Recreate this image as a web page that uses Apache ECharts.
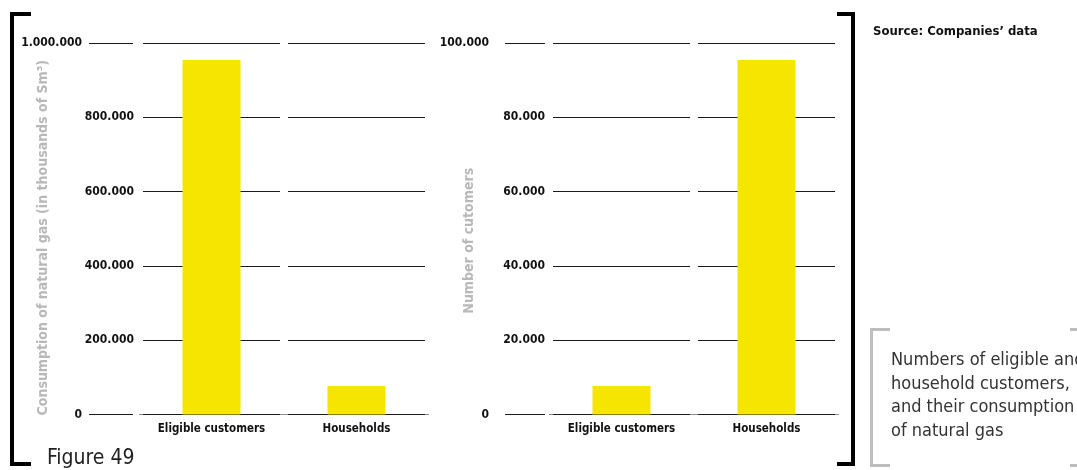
<!DOCTYPE html>
<html>
<head>
<meta charset="utf-8">
<script src="https://cdn.jsdelivr.net/npm/echarts@6/dist/echarts.min.js"></script>
<style>
html,body{margin:0;padding:0;background:#fff;}
#chart{width:1077px;height:470px;}
</style>
</head>
<body>
<div id="chart"></div>
<script>
// ---- data ----
const categories = ['Eligible customers', 'Households'];
const consumption = [954000, 77000];      // thousands of Sm3
const customers = [7700, 95400];          // number of customers
const consumptionTicks = { min: 0, max: 1000000, step: 200000 };
const customerTicks = { min: 0, max: 100000, step: 20000 };

const NARROW = "'DejaVu Sans Condensed', 'Liberation Sans Narrow', sans-serif";
const fmt = v => String(v).replace(/\B(?=(\d{3})+(?!\d))/g, '.');
const tickLabel = { color: '#111', fontFamily: NARROW, fontWeight: 'bold', fontSize: 12, padding: [0, 0, 4, 0], formatter: fmt };

function mainY(grid, ticks, name, margin, nameGap, shift) {
  return {
    type: 'value', gridIndex: grid, min: ticks.min, max: ticks.max, interval: ticks.step,
    axisLine: { show: false }, axisTick: { show: false },
    splitLine: { show: true, lineStyle: { color: '#1a1a1a', width: 1 } },
    axisLabel: Object.assign({ margin: margin, showMinLabel: false, showMaxLabel: false }, tickLabel),
    name: name, nameLocation: 'middle', nameRotate: 90, nameGap: nameGap,
    nameTextStyle: { color: '#b8b8b8', fontFamily: NARROW, fontWeight: 'bold', fontSize: 14, padding: [0, shift, 0, 0] },
    z: 0
  };
}
function endY(grid, ticks, offset, len, margin) {
  return {
    type: 'value', gridIndex: grid, min: ticks.min, max: ticks.max, interval: ticks.max - ticks.min,
    offset: offset, position: 'left',
    axisLine: { show: false },
    axisTick: { show: true, length: len, lineStyle: { color: '#1a1a1a', width: 1 } },
    splitLine: { show: false },
    axisLabel: Object.assign({ margin: margin }, tickLabel),
    z: 0
  };
}
function catX(grid) {
  return {
    type: 'category', gridIndex: grid, data: categories,
    axisLine: { show: false }, axisTick: { show: false },
    splitLine: { show: true, lineStyle: { color: '#ffffff', width: 8 } },
    axisLabel: { color: '#111', fontFamily: NARROW, fontWeight: 'bold', fontSize: 11.5, margin: 9, interval: 0 },
    z: 1
  };
}

const chart = echarts.init(document.getElementById('chart'), null, { renderer: 'canvas' });
chart.setOption({
  animation: false,
  backgroundColor: '#ffffff',
  grid: [
    { left: 139, right: 1077 - 429, top: 43, bottom: 470 - 414.5 },
    { left: 549, right: 1077 - 839, top: 43, bottom: 470 - 414.5 }
  ],
  xAxis: [catX(0), catX(1)],
  yAxis: [
    mainY(0, consumptionTicks, 'Consumption of natural gas (in thousands of Sm³)', 5, 89, 18),
    endY(0, consumptionTicks, 6, 44, 51),
    mainY(1, customerTicks, 'Number of cutomers', 4, 73, 24),
    endY(1, customerTicks, 4, 40, 56)
  ],
  series: [
    { type: 'bar', xAxisIndex: 0, yAxisIndex: 0, data: consumption, barWidth: 58,
      itemStyle: { color: '#f6e500' }, z: 2 },
    { type: 'bar', xAxisIndex: 1, yAxisIndex: 2, data: customers, barWidth: 58,
      itemStyle: { color: '#f6e500' }, z: 2 }
  ],
  graphic: [
    // left black bracket
    { type: 'rect', shape: { x: 10, y: 12, width: 4, height: 454 }, style: { fill: '#000' } },
    { type: 'rect', shape: { x: 10, y: 12, width: 21, height: 4 }, style: { fill: '#000' } },
    { type: 'rect', shape: { x: 10, y: 462, width: 21, height: 4 }, style: { fill: '#000' } },
    // right black bracket
    { type: 'rect', shape: { x: 851, y: 12, width: 4, height: 454 }, style: { fill: '#000' } },
    { type: 'rect', shape: { x: 837, y: 12, width: 18, height: 4 }, style: { fill: '#000' } },
    { type: 'rect', shape: { x: 837, y: 462, width: 18, height: 4 }, style: { fill: '#000' } },
    // grey note bracket
    { type: 'rect', shape: { x: 870, y: 328, width: 3, height: 139 }, style: { fill: '#bdbdbd' } },
    { type: 'rect', shape: { x: 870, y: 328, width: 20, height: 3 }, style: { fill: '#bdbdbd' } },
    { type: 'rect', shape: { x: 870, y: 464, width: 20, height: 3 }, style: { fill: '#bdbdbd' } },
    { type: 'rect', shape: { x: 1070, y: 328, width: 12, height: 3 }, style: { fill: '#bdbdbd' } },
    { type: 'rect', shape: { x: 1070, y: 464, width: 12, height: 3 }, style: { fill: '#bdbdbd' } },
    { type: 'rect', shape: { x: 1078, y: 328, width: 3, height: 139 }, style: { fill: '#bdbdbd' } },
    // texts
    { type: 'text', x: 873, y: 32, style: { text: 'Source: Companies’ data', fill: '#111', font: "bold 13px " + NARROW, verticalAlign: 'middle' } },
    { type: 'text', x: 891, y: 349, style: { text: 'Numbers of eligible and\nhousehold customers,\nand their consumption\nof natural gas', fill: '#333', font: "18px " + NARROW, lineHeight: 23.5, verticalAlign: 'top' } },
    { type: 'text', x: 47, y: 459, style: { text: 'Figure 49', fill: '#222', font: "21px " + NARROW, verticalAlign: 'middle' } }
  ]
});
</script>
</body>
</html>
